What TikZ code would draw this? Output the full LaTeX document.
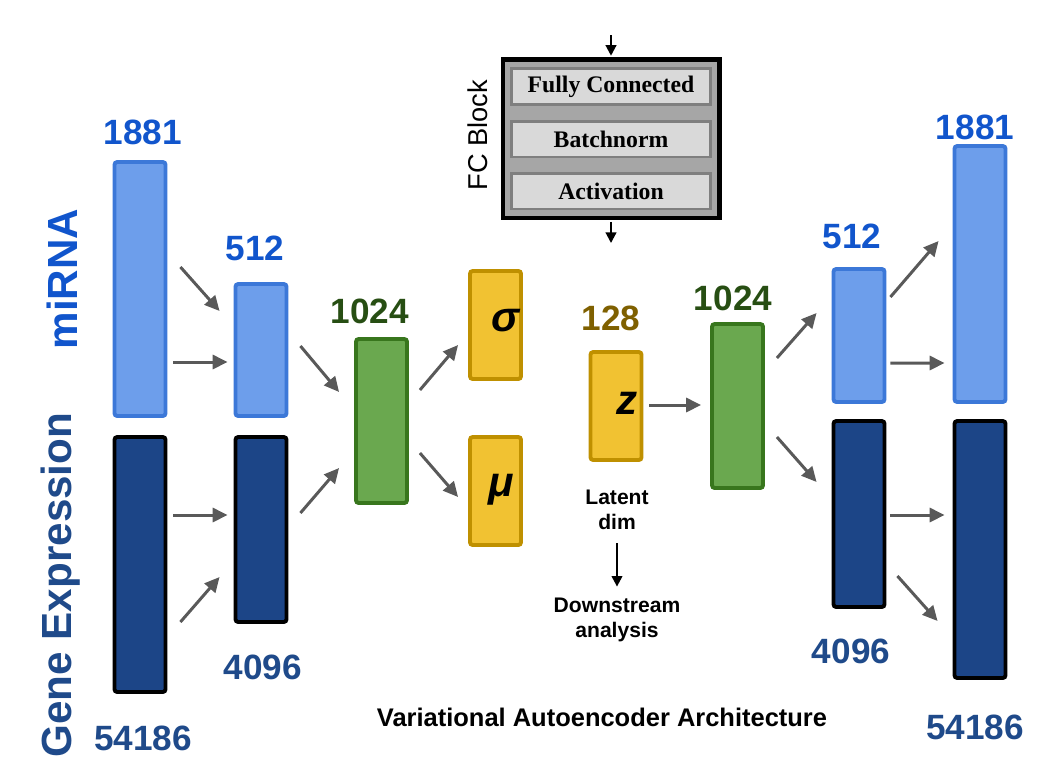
\documentclass[tikz,border=0pt]{standalone}
\usepackage{fontspec}
\setmainfont{Liberation Sans}
\newfontfamily\fcfont{Liberation Serif}
\usetikzlibrary{arrows.meta,positioning,fit,backgrounds}

\definecolor{mifill}{HTML}{6D9EEB}
\definecolor{miedge}{HTML}{3C78D8}
\definecolor{genefill}{HTML}{1C4587}
\definecolor{hidfill}{HTML}{6AA84F}
\definecolor{hidedge}{HTML}{38761D}
\definecolor{latfill}{HTML}{F1C232}
\definecolor{latedge}{HTML}{BF9000}
\definecolor{minum}{HTML}{1155CC}
\definecolor{genenum}{HTML}{1F4A8A}
\definecolor{hidnum}{HTML}{274E13}
\definecolor{latnum}{HTML}{7F6000}
\definecolor{arrowgray}{HTML}{595959}
\definecolor{fcfill}{HTML}{A6A6A6}
\definecolor{fclayerfill}{HTML}{D9D9D9}
\definecolor{fcedge}{HTML}{7F7F7F}

\begin{document}
\begin{tikzpicture}[x=0.02cm, y=-0.02cm]
    % Define styles
    \tikzset{
        bar/.style={
            draw,
            rounded corners=1.5pt,
            line width=2.2pt,
            minimum width=1.02cm,
            minimum height=#1,
            inner sep=0pt
        },
        mirna/.style={bar=#1, fill=mifill, draw=miedge},
        gene/.style={bar=#1, fill=genefill, draw=black},
        hidden/.style={bar=#1, fill=hidfill, draw=hidedge},
        latent/.style={bar=#1, fill=latfill, draw=latedge},
        num/.style={
            font=\fontsize{20}{24}\selectfont\bfseries,
            inner sep=0pt
        },
        sym/.style={
            font=\fontsize{24}{28}\selectfont\bfseries\itshape,
            inner sep=0pt
        },
        side/.style={
            font=\fontsize{24}{28}\selectfont\bfseries,
            rotate=90,
            inner sep=0pt
        },
        flow/.style={
            draw=arrowgray,
            line width=1.7pt,
            -{Triangle[length=8.5pt,width=8pt]}
        },
        fcarrow/.style={
            draw=black,
            line width=1.2pt,
            -{Triangle[length=6pt,width=6pt]}
        },
        fclayer/.style={
            draw=fcedge,
            fill=fclayerfill,
            line width=1.7pt,
            minimum width=3.98cm,
            minimum height=0.72cm,
            inner sep=0pt,
            font=\fcfont\fontsize{13.5}{16}\selectfont\bfseries
        },
        note/.style={
            align=center,
            font=\fontsize{12}{14.2}\selectfont\bfseries
        }
    }

    \useasboundingbox (0,0) rectangle (1054,778);

    % Input side labels
    \node[side, text=minum] (milabel) at (62,279) {miRNA};
    \node[side, text=genenum] (genelabel) at (61,585) {Gene Expression};

    % Encoder
    \begin{scope}
        \node[mirna=5.08cm] (mi1) at (140,289) {};
        \node[gene=5.10cm] (ge1) at (140,564.5) {};
        \node[mirna=2.64cm] (mi2) at (261,350) {};
        \node[gene=3.70cm] (ge2) at (261,529.5) {};
        \node[hidden=3.28cm] (en3) at (381.5,421) {};

        % Sizes
        \node[num, text=minum] (nmi1) at (143,132) {1881};
        \node[num, text=genenum] (nge1) at (143,738) {54186};
        \node[num, text=minum] (nmi2) at (255,248) {512};
        \node[num, text=genenum] (nge2) at (263,667) {4096};
        \node[num, text=hidnum] (nen3) at (370,311) {1024};

        % Connect layers
        \draw[flow] ([shift={(13,-22)}]mi1.east) -- ([shift={(-14,-39)}]mi2.west);
        \draw[flow] ([shift={(6,73)}]mi1.east) -- ([shift={(-6,12)}]mi2.west);
        \draw[flow] ([shift={(6,-49.5)}]ge1.east) -- ([shift={(-6,-14.5)}]ge2.west);
        \draw[flow] ([shift={(13,57.5)}]ge1.east) -- ([shift={(-14,47.5)}]ge2.west);
        \draw[flow] ([shift={(12,-4)}]mi2.east) -- ([shift={(-15,-29)}]en3.west);
        \draw[flow] ([shift={(12,-16.5)}]ge2.east) -- ([shift={(-15,47)}]en3.west);
    \end{scope}

    % Latent space
    \begin{scope}
        \node[latent=2.16cm] (sig) at (495.5,325) {};
        \node[latent=2.16cm] (mu) at (495.5,491) {};
        \node[latent=2.16cm] (z) at (616,406) {};
        \node[sym] (symsig) at ([shift={(10,-4)}]sig.center) {σ};
        \node[sym] (symmu) at ([shift={(6,-1)}]mu.center) {μ};
        \node[sym] (symz) at ([shift={(11,-3)}]z.center) {z};
        \node[num, text=latnum] (nz) at (611,318) {128};

        \draw[flow] ([shift={(11,-31)}]en3.east) -- ([shift={(-10,20)}]sig.west);
        \draw[flow] ([shift={(11,32)}]en3.east) -- ([shift={(-10,6)}]mu.west);

        % Downstream use
        \node[note] (lat) at (617,510) {Latent\\dim};
        \node[note] (down) at (617,620) {Downstream\\analysis};
        \draw[fcarrow, shorten <=4pt, shorten >=3pt] (lat) -- (down);
    \end{scope}

    % Decoder
    \begin{scope}
        \node[hidden=3.28cm] (de3) at (737.5,406) {};
        \node[mirna=2.66cm] (mi4) at (859,335.5) {};
        \node[gene=3.72cm] (ge4) at (859,514) {};
        \node[mirna=5.12cm] (mi5) at (980,274) {};
        \node[gene=5.14cm] (ge5) at (980,549.5) {};

        % Sizes
        \node[num, text=hidnum] (nde3) at (733,298) {1024};
        \node[num, text=minum] (nmi4) at (852,236) {512};
        \node[num, text=genenum] (nge4) at (851,651) {4096};
        \node[num, text=minum] (nmi5) at (975,127) {1881};
        \node[num, text=genenum] (nge5) at (975,727) {54186};

        % Connect layers
        \draw[flow] ([shift={(6,-1)}]z.east) -- ([shift={(-9,-1)}]de3.west);
        \draw[flow] ([shift={(12,-48)}]de3.east) -- ([shift={(-15,-22.5)}]mi4.west);
        \draw[flow] ([shift={(12,31)}]de3.east) -- ([shift={(-15,-32)}]ge4.west);
        \draw[flow] ([shift={(4,-38.5)}]mi4.east) -- ([shift={(-14,-33)}]mi5.west);
        \draw[flow] ([shift={(4,27.5)}]mi4.east) -- ([shift={(-8,89)}]mi5.west);
        \draw[flow] ([shift={(4,1)}]ge4.east) -- ([shift={(-8,-34.5)}]ge5.west);
        \draw[flow] ([shift={(11,62)}]ge4.east) -- ([shift={(-15,71.5)}]ge5.west);
    \end{scope}

    % FC block
    \begin{scope}
        \node[fclayer] (fc1) at (611,86.5) {Fully Connected};
        \node[fclayer] (fc2) at (611,139) {Batchnorm};
        \node[fclayer] (fc3) at (611,191) {Activation};
        \begin{scope}[on background layer]
            \node[draw=black, fill=fcfill, line width=2.3pt, inner sep=0.15cm, fit=(fc1)(fc3)] (fcbox) {};
        \end{scope}
        \node[rotate=90, font=\fontsize{15.5}{18}\selectfont] (fclabel) at (478,135) {FC Block};
        \coordinate (fcin) at (611,35);
        \coordinate (fcout) at (611,243);
        \draw[fcarrow, shorten >=1pt] (fcin) -- (fcbox);
        \draw[fcarrow, shorten <=1pt] (fcbox) -- (fcout);
    \end{scope}

    % Title
    \node[font=\fontsize{14.5}{17}\selectfont\bfseries] (title) at (602,717) {Variational Autoencoder Architecture};

\end{tikzpicture}
\end{document}
